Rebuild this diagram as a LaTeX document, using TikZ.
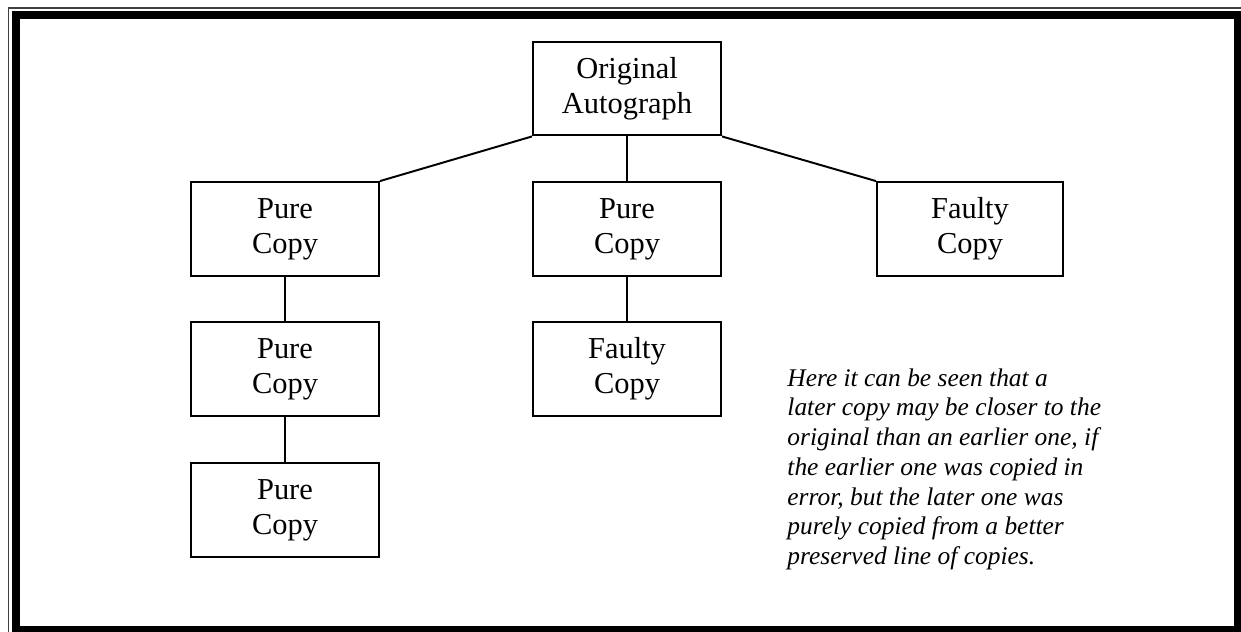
\documentclass[tikz,border=0pt]{standalone}
\usepackage{fontspec}
\setmainfont{Liberation Serif}
\usetikzlibrary{positioning}
\tikzstyle{copybox} = [draw, line width=0.9pt, minimum width=86.5pt, minimum height=43.2pt, inner sep=0pt, align=center, font=\fontsize{14}{16.1}\selectfont, execute at begin node={\rule{0pt}{14.6pt}}]
\tikzstyle{link}    = [line width=0.9pt]

\begin{document}
\begin{tikzpicture}[x=0.46pt, y=-0.46pt]
% page: 1241 x 632 px, y runs downwards
\useasboundingbox (0,0) rectangle (1241,632);
% frame: thin outer line, thick inner band
\draw[black!75, line width=0.6pt] (8.6,632) -- (8.6,8) -- (1241,8);
\draw[line width=3.45pt] (15.8,15) rectangle (1237.8,629.8);
% boxes
\node[copybox] (orig)    at (627,88.5) {Original\\Autograph};
\node[copybox] (pureA)   at (285,229)  {Pure\\Copy};
\node[copybox] (pureB)   at (627,229)  {Pure\\Copy};
\node[copybox, minimum width=85.6pt] (faultyA) at (970,229) {Faulty\\Copy};
\node[copybox] (pureC)   at (285,369)  {Pure\\Copy};
\node[copybox] (faultyB) at (627,369)  {Faulty\\Copy};
\node[copybox] (pureD)   at (285,510)  {Pure\\Copy};
% lines of descent
\draw[link] (orig.south west) -- (pureA.north east);
\draw[link] (orig.south) -- (pureB.north);
\draw[link] (orig.south east) -- (faultyA.north west);
\draw[link] (pureA) -- (pureC);
\draw[link] (pureC) -- (pureD);
\draw[link] (pureB) -- (faultyB);
% note
\node[anchor=north west, inner sep=0pt, align=left, font=\fontsize{11.7}{13.7}\selectfont\itshape] (note) at (787,368)
  {Here it can be seen that a\\
   later copy may be closer to the\\
   original than an earlier one, if\\
   the earlier one was copied in\\
   error, but the later one was\\
   purely copied from a better\\
   preserved line of copies.};
\end{tikzpicture}
\end{document}
